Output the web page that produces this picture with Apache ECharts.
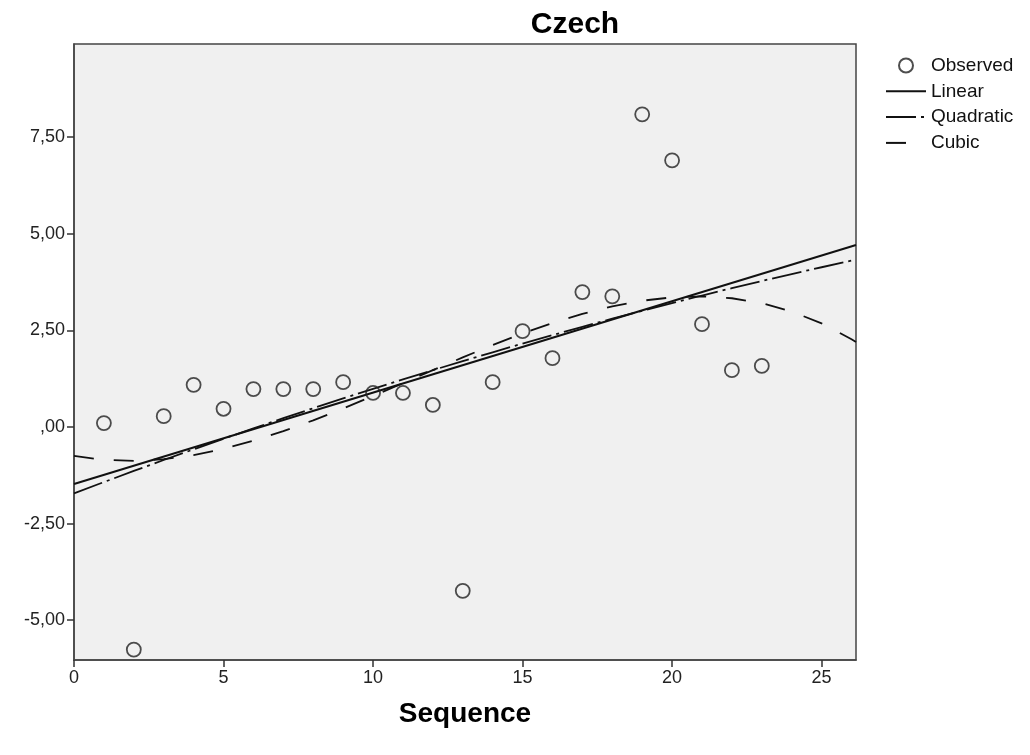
<!DOCTYPE html>
<html>
<head>
<meta charset="utf-8">
<script src="https://cdn.jsdelivr.net/npm/echarts@6/dist/echarts.min.js"></script>
<style>
html,body{margin:0;padding:0;background:#fff;}
#chart{width:1030px;height:755px;}
</style>
</head>
<body>
<div id="chart"></div>
<script>
// Observed values
const obsX = [1,2,3,4,5,6,7,8,9,10,11,12,13,14,15,16,17,18,19,20,21,22,23];
const obsY = [0.10,-5.76,0.28,1.09,0.47,0.98,0.98,0.98,1.16,0.88,0.88,0.57,-4.24,1.16,2.48,1.78,3.49,3.38,8.09,6.90,2.66,1.47,1.58];

// Fitted curves
const linX = [0, 26.15];
const linY = [-1.475, 4.709];
const fitX = [0,1,2,3,4,5,6,7,8,9,10,11,12,13,14,15,16,17,18,19,20,21,22,23,24,25,26,26.15];
const quadY = [-1.718,-1.426,-1.138,-0.855,-0.578,-0.305,-0.037,0.227,0.485,0.739,0.987,1.231,1.470,1.704,1.933,2.158,2.377,2.592,2.802,3.006,3.206,3.402,3.592,3.777,3.958,4.133,4.304,4.329];
const cubicY = [-0.749,-0.852,-0.877,-0.833,-0.727,-0.565,-0.357,-0.108,0.172,0.478,0.801,1.134,1.470,1.801,2.120,2.419,2.690,2.927,3.122,3.267,3.355,3.379,3.331,3.203,2.989,2.680,2.270,2.198];

// Tick labels
const xTicks = [0,5,10,15,20,25];
const yTicks = [-5,-2.5,0,2.5,5,7.5];

const title = 'Czech';
const xName = 'Sequence';
const seriesNames = ['Observed','Linear','Quadratic','Cubic'];

const zip = (a,b) => a.map((v,i) => [v, b[i]]);
const fmtY = v => {
  if (Math.abs(v) < 1e-9) return ',00';
  return v.toFixed(2).replace('.', ',');
};

const FONT = '"Liberation Sans", Arial, sans-serif';
const INK = '#111';

const chart = echarts.init(document.getElementById('chart'), null, {renderer:'canvas'});
chart.setOption({
  animation: false,
  backgroundColor: '#fff',
  color: [INK, INK, INK, INK],
  title: {
    text: title,
    left: 570,
    top: 5,
    textAlign: 'center',
    textStyle: {fontFamily: FONT, fontSize: 30, fontWeight: 'bold', color: '#000'}
  },
  legend: {
    orient: 'vertical',
    left: 880,
    top: 51,
    itemWidth: 40,
    itemHeight: 14,
    itemGap: 6.8,
    data: [
      {name: seriesNames[0]},
      {name: seriesNames[1], itemStyle: {opacity: 0}},
      {name: seriesNames[2], itemStyle: {opacity: 0}},
      {name: seriesNames[3], itemStyle: {opacity: 0}}
    ],
    textStyle: {fontFamily: FONT, fontSize: 19, color: '#111'}
  },
  grid: {
    left: 74, right: 174, top: 44, bottom: 95,
    show: true,
    backgroundColor: '#F0F0F0',
    borderColor: '#444',
    borderWidth: 1.5
  },
  xAxis: {
    type: 'value',
    min: 0, max: 26.15,
    name: xName,
    nameLocation: 'middle',
    nameGap: 40,
    nameTextStyle: {fontFamily: FONT, fontSize: 28, fontWeight: 'bold', color: '#000'},
    axisLine: {show: true, onZero: false, lineStyle: {color: '#444', width: 1.5}},
    axisTick: {show: true, length: 7, customValues: xTicks, lineStyle: {color: '#333', width: 1.5}},
    axisLabel: {customValues: xTicks, fontFamily: FONT, fontSize: 18, color: '#222', margin: 9},
    splitLine: {show: false}
  },
  yAxis: {
    type: 'value',
    min: -6.03, max: 9.91,
    axisLine: {show: true, onZero: false, lineStyle: {color: '#444', width: 1.5}},
    axisTick: {show: true, length: 7, customValues: yTicks, lineStyle: {color: '#333', width: 1.5}},
    axisLabel: {customValues: yTicks, formatter: fmtY, fontFamily: FONT, fontSize: 18, color: '#222', margin: 9},
    splitLine: {show: false}
  },
  series: [
    {
      name: 'Linear', type: 'line', data: zip(linX, linY),
      symbol: 'none', itemStyle: {color: INK}, lineStyle: {color: INK, width: 2, type: 'solid'}, z: 2
    },
    {
      name: 'Quadratic', type: 'line', data: zip(fitX, quadY), smooth: false,
      symbol: 'none', itemStyle: {color: INK}, lineStyle: {color: INK, width: 1.8, type: [30, 5, 3, 5]}, z: 2
    },
    {
      name: 'Cubic', type: 'line', data: zip(fitX, cubicY), smooth: false,
      symbol: 'none', itemStyle: {color: INK}, lineStyle: {color: INK, width: 1.8, type: [20, 20]}, z: 2
    },
    {
      name: 'Observed', type: 'scatter', data: zip(obsX, obsY),
      symbol: 'circle', symbolSize: 14,
      itemStyle: {color: 'rgba(0,0,0,0)', borderColor: '#222', borderWidth: 1.8}, z: 3
    }
  ]
});
</script>
</body>
</html>
